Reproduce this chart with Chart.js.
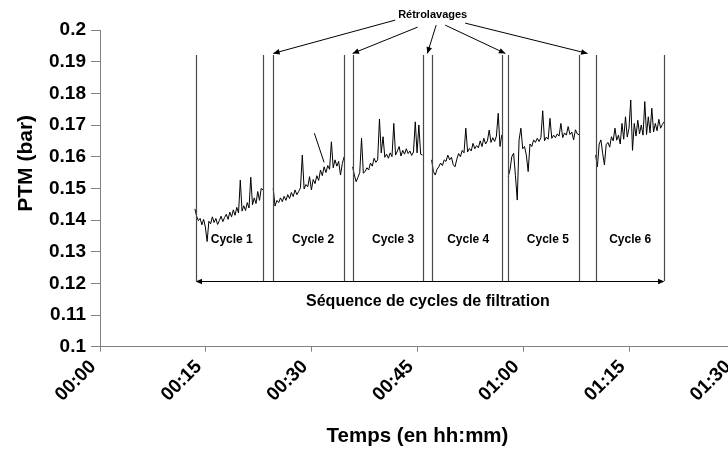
<!DOCTYPE html>
<html><head><meta charset="utf-8">
<script src="https://cdn.jsdelivr.net/npm/chart.js@4.4.0/dist/chart.umd.min.js"></script>
<style>html,body{margin:0;padding:0;overflow:hidden;background:#fff;width:728px;height:452px}canvas{display:block}</style>
</head><body>
<canvas id="c" width="740" height="452" style="width:740px;height:452px"></canvas>
<script>
// ---- data ----
const xTickLabels = ['00:00','00:15','00:30','00:45','01:00','01:15','01:30'];
const yTickLabels = ['0.1','0.11','0.12','0.13','0.14','0.15','0.16','0.17','0.18','0.19','0.2'];
const cycleNames = ['Cycle 1','Cycle 2','Cycle 3','Cycle 4','Cycle 5','Cycle 6'];
// cycle start / end times (minutes)
const cycleStart = [13.45, 24.55, 35.8, 47.0, 57.85, 70.25];
const cycleEnd   = [23.1, 34.6, 45.7, 56.95, 67.9, 79.95];
const cycle1 = [0.1435,0.1412,0.1398,0.1405,0.1385,0.1402,0.1378,0.1332,0.1396,0.1388,0.1410,0.1392,0.1405,0.1386,0.1398,0.1412,0.1395,0.1408,0.1418,0.1402,0.1425,0.1410,0.1432,0.1415,0.1440,0.1422,0.1526,0.1428,0.1445,0.1430,0.1455,0.1438,0.1535,0.1448,0.1470,0.1452,0.1490,0.1462,0.1500,0.1495];
const cycle2 = [0.1500,0.1444,0.1462,0.1455,0.1470,0.1458,0.1475,0.1462,0.1480,0.1468,0.1487,0.1474,0.1495,0.1480,0.1490,0.1502,0.1605,0.1498,0.1512,0.1505,0.1537,0.1495,0.1528,0.1515,0.1540,0.1525,0.1558,0.1540,0.1568,0.1550,0.1572,0.1560,0.1647,0.1565,0.1590,0.1570,0.1585,0.1542,0.1578,0.1600];
const cycle3 = [0.1568,0.1542,0.1521,0.1535,0.1550,0.1658,0.1548,0.1553,0.1565,0.1558,0.1580,0.1570,0.1595,0.1582,0.1590,0.1719,0.1612,0.1663,0.1598,0.1608,0.1595,0.1612,0.1600,0.1705,0.1605,0.1618,0.1632,0.1602,0.1620,0.1608,0.1625,0.1610,0.1618,0.1604,0.1615,0.1710,0.1612,0.1700,0.1608,0.1605];
const cycle4 = [0.1590,0.1553,0.1542,0.1560,0.1568,0.1580,0.1572,0.1590,0.1585,0.1605,0.1590,0.1598,0.1575,0.1568,0.1592,0.1610,0.1600,0.1620,0.1612,0.1690,0.1615,0.1626,0.1618,0.1642,0.1625,0.1635,0.1628,0.1650,0.1632,0.1658,0.1640,0.1650,0.1684,0.1645,0.1660,0.1648,0.1665,0.1737,0.1632,0.1669];
const cycle5 = [0.1537,0.1558,0.1600,0.1611,0.1540,0.1463,0.1653,0.1690,0.1625,0.1632,0.1605,0.1553,0.1640,0.1632,0.1653,0.1645,0.1658,0.1648,0.1660,0.1745,0.1650,0.1662,0.1655,0.1721,0.1658,0.1668,0.1660,0.1672,0.1665,0.1705,0.1660,0.1675,0.1668,0.1695,0.1670,0.1678,0.1653,0.1685,0.1672,0.1669];
const cycle6 = [0.1605,0.1568,0.1640,0.1653,0.1610,0.1574,0.1638,0.1645,0.1630,0.1663,0.1650,0.1690,0.1652,0.1668,0.1640,0.1705,0.1655,0.1726,0.1662,0.1690,0.1779,0.1620,0.1705,0.1665,0.1715,0.1672,0.1700,0.1668,0.1774,0.1670,0.1726,0.1675,0.1753,0.1678,0.1705,0.1682,0.1718,0.1690,0.1702,0.1710];
// annotation positions (data units)
const boundaryLines = [13.55, 23.15, 24.55, 34.65, 35.8, 45.75, 47.0, 56.95, 57.85, 67.95, 70.25, 80.0];
const backwashTargets = [24.55, 35.8, 46.4, 57.45, 69.1];
const cycleLabelTimes = [18.67, 30.2, 41.54, 52.18, 63.47, 75.14];
const lineTopValue = 0.1921, lineBottomValue = 0.12075;
const cycleLabelValue = 0.1337;
const sequenceLabel = 'Séquence de cycles de filtration';
const sequenceLabelPos = [46.47, 0.1142];
const backwashLabel = 'Rétrolavages';
const backwashLabelPos = [47.15, 0.2047];
const pointerLine = [[30.38, 0.1674], [31.76, 0.1582]];

const FONT = "'Liberation Sans', Arial, Helvetica, sans-serif";
const cycles = [cycle1, cycle2, cycle3, cycle4, cycle5, cycle6];

function arrowHead(ctx, x0, y0, x1, y1, size) {
  const a = Math.atan2(y1 - y0, x1 - x0);
  ctx.beginPath();
  ctx.moveTo(x1, y1);
  ctx.lineTo(x1 - size * Math.cos(a - 0.42), y1 - size * Math.sin(a - 0.42));
  ctx.lineTo(x1 - size * Math.cos(a + 0.42), y1 - size * Math.sin(a + 0.42));
  ctx.closePath();
  ctx.fill();
}
function arrow(ctx, x0, y0, x1, y1, size) {
  ctx.beginPath(); ctx.moveTo(x0, y0); ctx.lineTo(x1, y1); ctx.stroke();
  arrowHead(ctx, x0, y0, x1, y1, size);
}

const overlay = {
  id: 'overlay',
  afterDatasetsDraw(chart) {
    const {ctx, scales: {x, y}} = chart;
    ctx.save();
    // vertical cycle boundaries
    const yTop = y.getPixelForValue(lineTopValue), yBot = y.getPixelForValue(lineBottomValue);
    ctx.strokeStyle = '#4a4a4a'; ctx.lineWidth = 1.2;
    boundaryLines.forEach(t => {
      const px = Math.round(x.getPixelForValue(t)) + 0.5;
      ctx.beginPath(); ctx.moveTo(px, yTop); ctx.lineTo(px, yBot); ctx.stroke();
    });
    // double arrow
    ctx.strokeStyle = '#000'; ctx.fillStyle = '#000'; ctx.lineWidth = 1;
    const xa = x.getPixelForValue(boundaryLines[0]), xb = x.getPixelForValue(boundaryLines[boundaryLines.length - 1]);
    const ya = Math.round(yBot) + 0.5;
    ctx.beginPath(); ctx.moveTo(xa + 3, ya); ctx.lineTo(xb - 3, ya); ctx.stroke();
    arrowHead(ctx, xb, ya, xa, ya, 7);
    arrowHead(ctx, xa, ya, xb, ya, 7);
    // cycle labels
    ctx.font = 'bold 12px ' + FONT; ctx.textAlign = 'center'; ctx.textBaseline = 'middle';
    cycleNames.forEach((n, i) => ctx.fillText(n, x.getPixelForValue(cycleLabelTimes[i]), y.getPixelForValue(cycleLabelValue)));
    // sequence label
    ctx.font = 'bold 16px ' + FONT;
    ctx.fillText(sequenceLabel, x.getPixelForValue(sequenceLabelPos[0]), y.getPixelForValue(sequenceLabelPos[1]));
    // backwash label + arrows
    const bx = x.getPixelForValue(backwashLabelPos[0]), by = y.getPixelForValue(backwashLabelPos[1]);
    ctx.font = 'bold 11px ' + FONT;
    ctx.fillText(backwashLabel, bx, by);
    const starts = [[-37.5, 5], [-15, 12], [3.5, 10], [12.5, 10], [32.5, 8]];
    const tipY = y.getPixelForValue(0.1926);
    backwashTargets.forEach((t, i) => {
      arrow(ctx, bx + starts[i][0], by + starts[i][1], x.getPixelForValue(t), tipY, 7);
    });
    // pointer line in cycle 2
    ctx.beginPath();
    ctx.moveTo(x.getPixelForValue(pointerLine[0][0]), y.getPixelForValue(pointerLine[0][1]));
    ctx.lineTo(x.getPixelForValue(pointerLine[1][0]), y.getPixelForValue(pointerLine[1][1]));
    ctx.stroke();
    // y axis title
    ctx.save();
    ctx.translate(26, (y.top + y.bottom) / 2 - 25);
    ctx.rotate(-Math.PI / 2);
    ctx.font = 'bold 21px ' + FONT;
    ctx.fillText('PTM (bar)', 0, 0);
    ctx.restore();
    ctx.restore();
  }
};

new Chart(document.getElementById('c'), {
  type: 'line',
  data: {
    datasets: cycles.map((vals, k) => ({
      data: vals.map((v, i) => ({x: cycleStart[k] + i * (cycleEnd[k] - cycleStart[k]) / (vals.length - 1), y: v})),
      borderColor: '#000', borderWidth: 1, pointRadius: 0, tension: 0, fill: false
    }))
  },
  options: {
    responsive: false, animation: false, devicePixelRatio: 1,
    layout: {padding: {top: 30, left: 0, right: 5, bottom: 0}},
    plugins: {legend: {display: false}, tooltip: {enabled: false}},
    scales: {
      x: {
        type: 'linear', min: 0, max: 90,
        ticks: {stepSize: 15, autoSkip: false, minRotation: 45, maxRotation: 45, color: '#000',
          font: {family: FONT, size: 19, weight: 'bold'}, padding: 4, labelOffset: -7,
          callback: (v, i) => xTickLabels[i]},
        grid: {drawOnChartArea: false, drawTicks: true, tickLength: 5, color: '#808080'},
        border: {color: '#808080', width: 1},
        title: {display: true, text: 'Temps (en hh:mm)', color: '#000',
          font: {family: FONT, size: 20.5, weight: 'bold'}, padding: {top: 0, bottom: 3}},
        afterFit(s) { s.height = 105.3; s.paddingLeft = 0; s.paddingRight = 0; }
      },
      y: {
        min: 0.1, max: 0.2,
        ticks: {stepSize: 0.01, color: '#000', font: {family: FONT, size: 19, weight: 'bold'}, padding: 5,
          callback: (v, i) => yTickLabels[i]},
        grid: {drawOnChartArea: false, drawTicks: true, tickLength: 9, color: '#808080'},
        border: {color: '#808080', width: 1},
        afterFit(s) { s.width = 100; s.paddingTop = 0; s.paddingBottom = 0; }
      }
    }
  },
  plugins: [overlay]
});
</script>
</body></html>
